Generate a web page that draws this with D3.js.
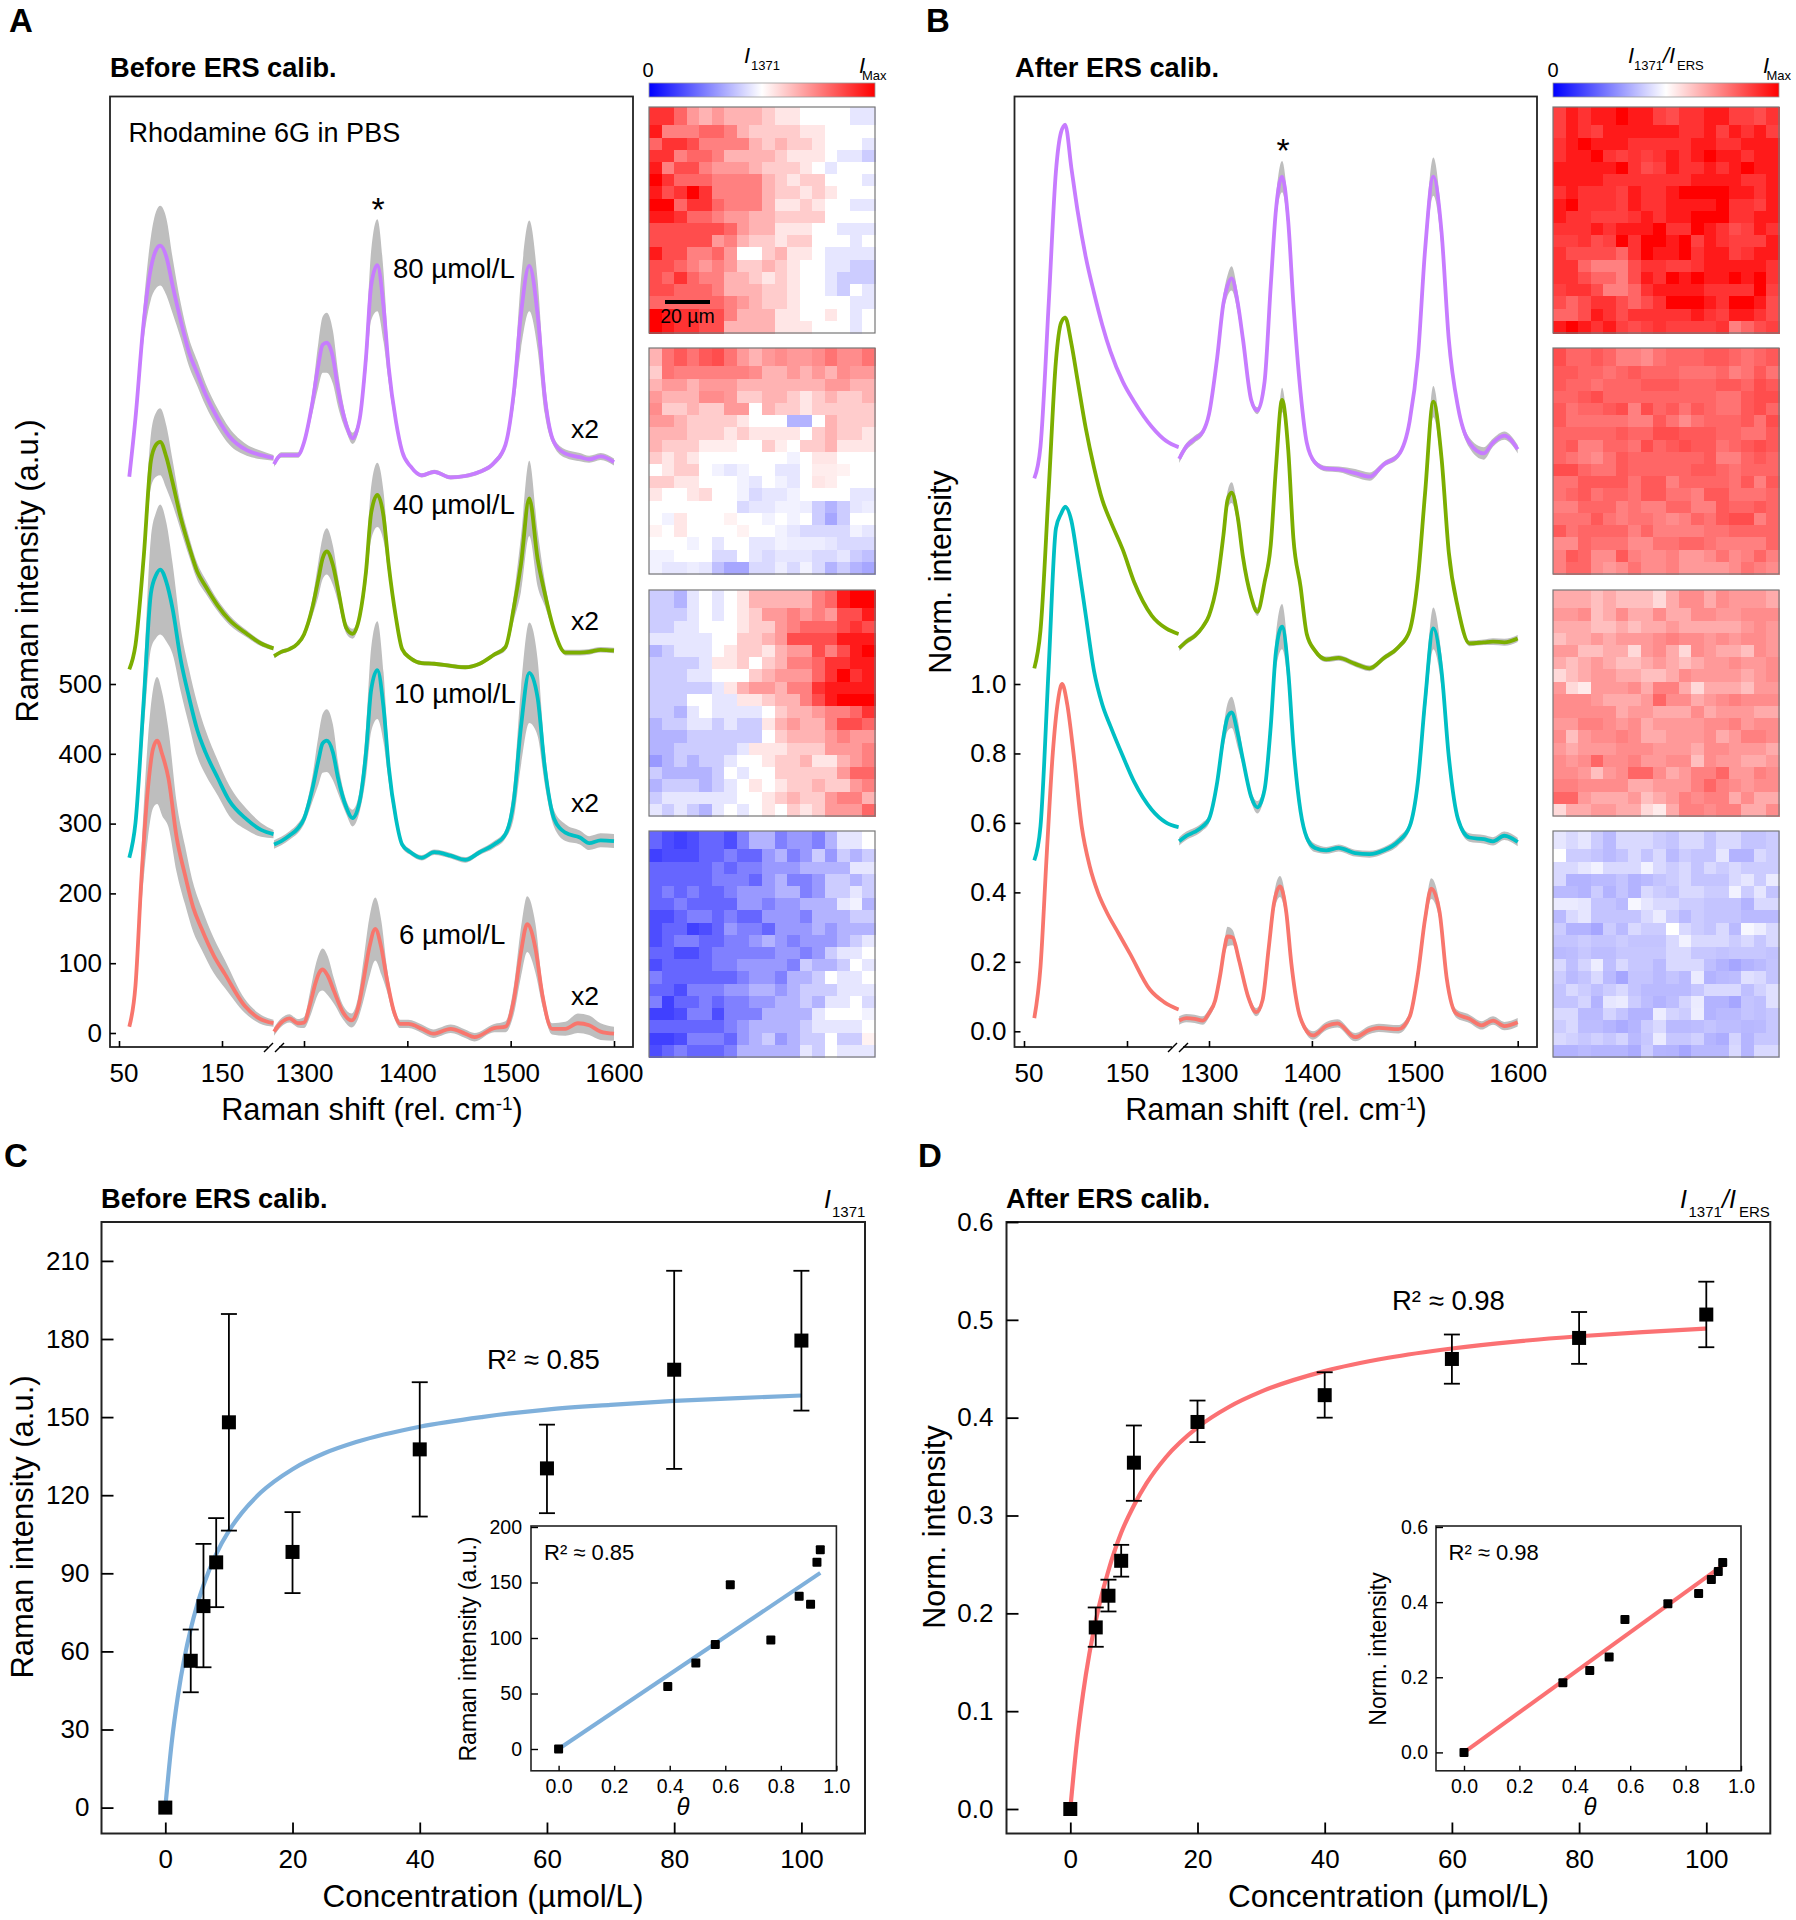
<!DOCTYPE html>
<html>
<head>
<meta charset="utf-8">
<style>
  body { margin: 0; background: #fff; }
  svg { display: block; }
  text { font-family: "Liberation Sans", Arial, sans-serif; fill: #000; }
  .axis text { font-family: "Liberation Sans", Arial, sans-serif; }
  .axis line { stroke: #000; }
  .map { filter: blur(0.7px); }
</style>
</head>
<body>
<svg id="fig" width="1796" height="1920"></svg>
<script src="https://cdnjs.cloudflare.com/ajax/libs/d3/7.8.5/d3.min.js"></script>
<script>
// ---- spectra: x grids (rel. cm-1) ----
const leftX = [60,66,74,81,86,90,96,102,110,118,126,134,146,157,174,188,200];
const rightX = [1271,1278,1286,1294,1300,1308,1314,1318,1322,1328,1333,1341,1347,1354,1360,1365,1371,1377,1382,1389,1395,1403,1414,1426,1442,1456,1470,1484,1495,1503,1510,1518,1526,1533,1542,1553,1567,1576,1587,1600];
const redLeftX = [60,66,72,78,83,87,92,98,106,114,122,130,142,153,172,186,200];
const redRightX = [1271,1278,1286,1294,1300,1306,1311,1315,1318,1323,1329,1338,1346,1352,1358,1363,1369,1375,1380,1387,1393,1401,1414,1425,1442,1456,1465,1484,1495,1503,1510,1516,1524,1531,1540,1553,1565,1576,1587,1600];

const seriesColors = ["#C77CFF", "#7CAE00", "#00BFC4", "#F8766D"];
const seriesLabels = ["80 µmol/L", "40 µmol/L", "10 µmol/L", "6 µmol/L"];

// panel A, Raman intensity
const a80Left = [797,881,1019,1096,1122,1128,1112,1071,1020,975,945,915,880,855,835,828,824];
const a40Left = [521,556,682,820,843,847,825,789,738,697,661,640,612,592,572,558,551];
const a10Left = [251,301,476,630,656,664,646,608,534,481,434,402,365,333,306,291,285];
const a6Left = [9,68,227,349,407,419,399,365,280,227,180,150,111,84,39,21,14];
const a80Right = [815,828,828,828,846,902,958,986,989,968,922,871,852,881,968,1071,1100,1040,953,876,833,812,799,804,796,798,804,817,843,917,1030,1099,1030,912,846,830,825,822,826,818];
const a40Right = [540,546,550,558,571,609,651,680,690,670,635,580,572,598,661,745,771,740,670,595,550,537,530,529,526,524,529,542,553,609,672,766,680,630,577,545,545,546,549,548];
const a10Right = [270,275,283,293,307,349,391,415,419,402,365,323,308,333,402,492,520,466,381,307,270,259,251,259,254,248,259,270,285,333,439,516,481,381,307,287,280,272,276,275];
const a6Right = [2,15,21,14,15,42,71,87,91,82,60,29,18,34,79,121,149,121,79,31,13,13,6,-1,6,-1,-6,7,9,47,116,156,121,52,6,6,14,11,2,-1];
const a80SdLeft = [0,2,25,45,55,57,55,40,25,20,18,16,14,12,8,6,4];
const a40SdLeft = [0,2,20,38,46,48,45,32,18,14,12,10,8,7,5,4,3];
const a10SdLeft = [0,3,40,80,90,93,85,65,45,40,38,32,25,22,15,10,6];
const a6SdLeft = [1,3,40,70,85,91,88,70,50,42,35,30,25,20,10,7,5];
const a80SdRight = [4,4,4,4,6,15,32,40,43,38,25,10,8,10,25,50,66,50,22,8,4,3,3,3,3,3,3,4,6,20,50,65,50,25,6,6,6,5,5,5];
const a40SdRight = [3,3,3,3,5,12,25,30,33,28,18,8,7,8,20,38,46,35,15,5,3,3,3,3,3,3,3,3,5,18,40,54,40,18,5,4,4,4,4,4];
const a10SdRight = [6,6,6,7,8,18,35,42,45,40,22,10,12,15,35,60,70,50,22,8,5,4,4,4,4,4,4,5,6,25,55,72,55,25,12,12,10,10,10,10];
const a6SdRight = [6,6,6,6,8,18,25,28,30,28,18,10,10,15,30,42,45,38,18,8,6,6,6,6,6,6,6,6,8,20,35,40,35,15,8,10,14,14,12,10];

// panel B, normalised intensity
const b80Left = [1.592,1.684,2.096,2.476,2.589,2.610,2.486,2.363,2.229,2.126,2.034,1.957,1.870,1.813,1.741,1.700,1.682];
const b40Left = [1.045,1.154,1.561,1.93,2.04,2.055,1.98,1.875,1.736,1.623,1.53,1.469,1.386,1.293,1.197,1.16,1.144];
const b10Left = [.492,.59,1.05,1.448,1.49,1.51,1.47,1.36,1.197,1.037,.941,.878,.792,.718,.638,.601,.588];
const b6Left = [.038,.185,.505,.803,.952,1.0,.941,.803,.59,.473,.398,.345,.281,.223,.121,.084,.063];
const b80Right = [1.648,1.684,1.705,1.726,1.777,1.941,2.096,2.147,2.168,2.096,1.993,1.818,1.787,1.870,2.147,2.363,2.461,2.332,2.096,1.839,1.695,1.638,1.620,1.618,1.607,1.597,1.633,1.659,1.757,1.941,2.250,2.461,2.301,1.993,1.797,1.695,1.664,1.695,1.715,1.676];
const b40Right = [1.103,1.122,1.138,1.165,1.197,1.293,1.428,1.53,1.551,1.479,1.366,1.25,1.208,1.293,1.40,1.62,1.818,1.674,1.42,1.28,1.144,1.096,1.071,1.075,1.058,1.045,1.075,1.106,1.154,1.303,1.55,1.813,1.65,1.38,1.218,1.117,1.12,1.122,1.12,1.131];
const b10Right = [.547,.563,.574,.590,.611,.718,.846,.904,.918,.856,.782,.675,.645,.696,.878,1.091,1.165,1.037,.824,.633,.558,.528,.521,.528,.513,.510,.521,.547,.590,.718,.952,1.160,1.037,.792,.611,.558,.553,.547,.563,.545];
const b6Right = [.031,.038,.036,.031,.052,.089,.164,.239,.273,.27,.207,.10,.055,.089,.239,.366,.417,.345,.196,.058,.01,-.012,.015,.023,-.017,.004,.01,.006,.042,.164,.324,.411,.345,.153,.052,.036,.017,.031,.015,.026];
const bSdLeft = [0,.002,.004,.005,.005,.006,.006,.005,.004,.004,.004,.004,.004,.004,.004,.004,.004];
const b80SdRight = [.012,.01,.01,.01,.01,.015,.025,.03,.035,.03,.02,.01,.01,.01,.02,.035,.045,.035,.02,.01,.008,.008,.008,.008,.012,.012,.008,.008,.01,.02,.04,.055,.04,.02,.015,.015,.018,.012,.012,.012];
const b40SdRight = [.008,.008,.008,.008,.01,.012,.02,.025,.03,.025,.015,.012,.012,.01,.015,.025,.035,.025,.015,.008,.008,.008,.008,.008,.008,.008,.008,.008,.01,.015,.03,.045,.03,.015,.01,.008,.008,.01,.01,.01];
const b10SdRight = [.012,.012,.012,.012,.012,.015,.03,.04,.045,.04,.02,.015,.018,.015,.025,.05,.065,.045,.02,.012,.012,.012,.01,.01,.01,.01,.01,.012,.012,.02,.045,.06,.045,.02,.012,.012,.012,.012,.012,.012];
const b6SdRight = [.012,.012,.012,.012,.012,.012,.018,.022,.028,.022,.014,.012,.012,.012,.02,.025,.03,.025,.014,.012,.01,.012,.012,.012,.012,.012,.012,.012,.012,.016,.025,.03,.025,.014,.012,.012,.012,.012,.012,.012];

// ---- maps: 18 x 18, -10 = full blue, 0 = white, 10 = full red ----
const mapA80 = [
[8,8,6,4,3,4,3,3,3,2,1,1,0,0,0,0,-1,-1],[9,5,5,5,6,6,5,3,2,2,2,2,1,1,0,0,0,0],[6,8,8,7,5,5,5,5,3,2,3,2,2,1,0,0,0,-1],
[8,8,5,6,6,5,3,3,3,3,2,1,1,1,0,-1,-1,-2],[9,5,7,7,5,4,4,4,3,2,2,2,1,0,-1,0,0,0],[10,8,6,6,6,5,5,5,5,3,2,1,2,2,0,0,0,-1],
[9,7,8,10,8,5,5,5,5,3,2,2,1,2,1,0,0,0],[10,10,6,8,8,6,5,5,5,3,1,1,2,1,0,0,-1,-1],[9,9,8,6,6,5,4,4,3,3,2,2,2,2,0,0,0,0],
[7,7,7,7,7,7,6,4,3,3,1,1,1,0,0,-1,-1,-1],[7,7,7,7,7,4,5,3,2,2,1,2,2,0,0,0,-1,0],[9,7,7,5,5,6,4,0,0,2,3,1,1,0,-1,-1,-1,-1],
[7,7,6,5,4,5,4,2,2,3,2,1,0,0,-1,-1,-2,-2],[7,6,8,6,5,5,3,3,2,1,2,1,0,0,-1,-2,-2,-2],[7,7,6,6,6,5,3,3,3,2,2,1,0,0,-1,-2,0,-1],
[6,6,6,6,6,6,5,4,3,2,2,1,0,0,0,0,-1,-1],[10,9,8,8,7,7,5,3,3,3,1,1,0,0,1,0,-1,0],[10,9,8,8,7,7,3,3,3,3,1,1,1,0,0,0,-1,0]];
const mapA40 = [
[3,5.5,6.5,5.5,6.5,7,5.5,4,3,4,4.5,4,4,4.5,5.5,4.5,4.5,5.5],[2,5.5,5,5,5,5,5,5,4.5,3,3,4,3,4,3,4.5,4,4],[3,4,4,3,4,4,4,3,3,3,3,3,3,3,4,4,3,3],
[4,3,3,3,4.5,4.5,4,2,2,3,3,2,1,2,3,2,2,3],[4.5,2,2,3,2,2,4,4,0,3,2,2,1,2,2,2,2,2],[4,4,3,2,2,2,2,1,0,0,0,-3,-3,0,3,2,2,2],
[3,3,3,2,2,2,1,2,1,1,1,1,0,2,3,2,2,1],[3,2,2,2,.7,.7,.7,0,0,2,.7,0,2,2,3,1,1,1],[2,1,2,1,0,0,0,0,0,0,0,-.5,0,1,1,0,0,0],
[0,1,2,2,0,-.5,-1,-.5,0,0,-1,-1,0,.7,.7,.5,0,0],[2,2,1,1,0,0,0,-.5,-1,0,-.5,-1,0,1,.7,0,0,0],[1,0,0,1,1.5,0,0,-.5,-1.5,-1,-1,-.5,0,0,0,0,-1,-1],
[0,0,0,0,0,0,0,-1.5,-1,-1,-.5,-.5,-.7,-2,-3,-2,-1,-.7],[0,-.5,1,0,0,0,.5,0,0,-.5,0,-.5,0,-2,-3.5,-2,0,0],[.5,0,1,0,0,0,0,.5,0,0,-.5,-1,-1.5,-1.5,-1.5,-1.5,-.5,-1],
[0,0,0,-.5,0,-1,0,0,-1,-1,-.5,-.7,-.7,-.7,-1,-1.5,-1.5,-1.5],[-.5,-.5,0,0,0,-1.5,-1.5,0,-1,-1.5,-1,-1,-1,-1.5,-1.5,-1,-2,-2.5],[-.5,-1,-1,-.7,-1,-2.5,-3.5,-3.5,-1.5,-1.5,-.7,-1.5,-.5,-1.5,-3,-2,-3,-3.5]];
const mapA10 = [
[-2,-2,-3,-1,0,-1,0,1,3,3,3,3,3,5,6,9,10,10],[-2,-2,-2,-1,0,-1,0,1,2,4,4,5,4,5,4,7,7,9],[-2,-2,-1,-1,0,0,0,1,2,2,4,5,6,6,6,7,8,7],
[-1,-1,-1,-1,-1,0,0,2,2,3,4,7,7,7,7,9,9,9],[-3,-2,-1,-1,-1,0,1,2,2,1,3,4,4,7,5,7,9,10],[-2,-2,-2,-2,-1,1,1,2,0,2,3,5,5,6,8,8,9,9],
[-2,-2,-2,-1,-1,0,0,0,2,3,4,4,4,6,8,10,8,9],[-2,-2,-2,-2,-2,-1,1,3,4,4,3,5,5,8,9,9,9,9],[-2,-2,-2,0,0,-1,-1,1,1,2,3,3,5,7,9,10,10,10],
[-2,-2,-3,-1,0,-1,-1,-1,-1,0,2,3,3,4,5,5,6,8],[-3,-2,-2,-1,-1,-2,-1,-2,-2,1,3,4,3,3,5,7,7,6],[-3,-3,-3,-2,-2,-2,-2,-2,-2,0,2,3,3,3,4,5,4,4],
[-3,-3,-2,-2,-2,-2,-2,-1,1,1,1,2,2,2,4,4,4,5],[-4,-3,-2,-3,-2,-2,-1,0,0,1,2,2,3,1,1,3,4,5],[-2,-3,-3,-3,-3,-2,0,-1,0,0,2,2,2,2,2,4,6,6],
[-3,-2,-2,-2,-3,-2,-1,0,1,0,1,2,2,3,2,2,4,5],[-2,-1,-1,-1,-1,-1,-1,0,0,1,2,3,2,2,4,5,5,3],[-1,-2,-1,-2,-3,-1,0,-1,0,1,0,2,1,2,4,4,4,6]];
const mapA6 = [
[-6,-7,-7.5,-7,-6,-6,-7,-5,-3,-3,-5,-4,-4,-5,-3,-1,-1,0],[-7.5,-7,-7,-7,-6,-6,-5,-6,-6,-4,-3,-5,-4,-2,-4,-2,-3,-2],[-6,-6,-6,-6,-6,-5,-6,-5,-5,-4,-4,-4,-3,-3,-3,-3,-1,-1],
[-6,-6,-6,-6,-6,-5,-5,-5,-6,-4,-3,-5,-5,-4,-2,-2,-3,-2],[-6,-5,-6,-5,-6,-6,-5,-4,-4,-4,-3,-3,-5,-4,-2,-2,-1,-2],[-6,-6,-5,-6,-6,-6,-6,-4,-4,-5,-4,-4,-3,-3,-3,-1,-.5,-3],
[-7,-7,-6,-5,-5,-6,-5,-6,-6,-4,-4,-4,-5,-3,-3,-3,-2,-2],[-7,-6,-6,-7.5,-7,-6,-4,-5,-5,-6,-4,-4,-4,-3,-4,-3,-3,-3],[-7,-6,-5,-5,-6,-6,-5,-5,-4,-3,-4,-5,-4,-4,-4,-3,-2,-1],
[-6,-6,-7,-7,-6,-5,-5,-5,-5,-5,-4,-4,-5,-4,-2,-1,-1,0],[-7,-6,-6,-6,-6,-5,-5,-4,-4,-4,-4,-5,-2,-3,-3,-2,0,-1],[-5,-6,-6,-6,-6,-6,-6,-5,-4,-4,-5,-3,-3,-2,0,-1,-1,0],
[-6,-6,-7,-5,-5,-5,-4,-4,-3,-3,-4,-3,-2,-2,-2,-1,-1,-1],[-5,-7.5,-6,-6,-5,-6,-5,-5,-4,-4,-3,-3,-2,-3,-1,-1,0,-1.5],[-7.5,-7.5,-7,-5,-5,-7,-5,-5,-5,-3,-3,-3,-3,-1,0,0,0,-.5],
[-6,-6,-6,-6,-6,-6,-5,-4,-3,-3,-3,-3,-2,-1,-1,-1,-1,0],[-7.5,-7.5,-7,-5,-5,-5,-6,-4,-3,-2,-4,-3,-2,-2,0,-2,-2,.5],[-7,-6,-5,-6,-6,-6,-5,-3,-3,-3,-3,-3,-1,-2,0,-1,-1,-1]];
const mapB80 = [
[7.5,9,8,9,9,10,9,9,7.5,7,8,8,9,9,7.5,7.5,7,8],[7.5,9,8,7.5,9,9,9,9,9,9,8,8,9,7.5,9,8,9,7.5],[8,9,10,9,9,9,8,8,8,8,8,9,9,8,8,9,9,9],
[8,9,9,10,8,7.5,8,7.5,8,9,8,9,10,9,9,8,9,9],[9,9,9,9,9,10,8,7,7.5,9,8,8,9,8,9,10,9,9],[9,9,9,9,8,8,8,8,8,8,8,9,9,9,9,8,8,9],
[8,9,8,8,8,7.5,9,8,8,9,10,10,10,10,9,9,8,9],[9,10,8,8,8,7.5,9,8,8,9,9,9,9,10,8,8,7.5,9],[9,8,8,7.5,7.5,7.5,8,9,8,9,9,10,10,10,8,8,9,9],
[8,8,8,9,8,9,9,9,10,8,8,10,9,8,7,7.5,9,8],[7.5,7.5,8,7,7.5,10,8,10,10,9,10,7.5,9,8,7.5,7.5,7.5,9],[8,7,7,7,7,6,8,10,9,9,10,8,9,9,7.5,8,9,9],
[8,8,6,5,5,5,7,8,8,7.5,7.5,8,9,9,9,9,9,8],[8,8,7,6,6,5,7,9,8,10,9,10,9,9,10,9,10,8],[7.5,8,8,7,5,5,6,8,9,9,9,9,8,8,8,8,10,7.5],
[7,6,7,8,8,7,6,7,8,10,10,10,9,8,10,10,9,7],[6,6,7,9,8,7,8,8,8,8,8,9,8,7.5,9,9,8,7],[9,10,9,8,9,7.5,7,7.5,8,7.5,7.5,7.5,7.5,8,5,6,7,7.5]];
const mapB40 = [
[7,6,6,6.5,6,5,5,4.5,5.5,6,6,6,6.5,6.5,6,5.5,6,6.5],[6.5,6.5,6,6,5.5,6,6.5,6,6,6,5.5,5.5,5.5,6,5,5.5,6.5,5.5],[6.5,6,6,5.5,6,6,6,6.5,6.5,6.5,6,6,6,6.5,6.5,6,7,6.5],
[6,6,6.5,7,6,6,6,6,6,6,6,6,6,5.5,5.5,6.5,7,7],[6.5,5.5,6,6,6.5,7,5,7,6,6.5,5.5,6.5,6,5.5,5.5,6.5,7,6],[6.5,5.5,5.5,5.5,5.5,5.5,5,5,6.5,5.5,4.5,5.5,6,6,6,6.5,5.5,7],
[6,6,6,6,6,6.5,6,6,7,7,6.5,6.5,6.5,6,6,5.5,5.5,6.5],[6,6.5,5,5,6,6,5.5,7,6,6.5,7,6.5,6.5,5.5,6,6.5,7,6.5],[6,5.5,5,4.5,5.5,6.5,6,6,6,6,6,6,6.5,5,5,6,6.5,6],
[7,7,6,5.5,5.5,6.5,6,6,6,6,6,6.5,6.5,6,5.5,6,6,6],[5.5,5.5,6.5,6.5,6.5,6.5,5.5,6.5,6.5,5,6,6,6,6,5.5,6.5,5,6.5],[5.5,6,6.5,5.5,6,6,5.5,6.5,6.5,5.5,5.5,5,6.5,6.5,5.5,5.5,5.5,6],
[5,5,6,6,6,5,5.5,5,5,6,6,5,5,6.5,6,6,6.5,6],[5.5,5.5,5.5,6.5,5.5,5,5.5,5.5,5,4.5,5,6,5.5,6.5,7,7,5,6],[6.5,5.5,6,6,6,6,5,6,5,5,5,5,5.5,5.5,6,6,6,6],
[4.5,4.5,6,5.5,5.5,5.5,4.5,4.5,5.5,5.5,6,6,5.5,5,5,5,5,6],[5,6.5,6,4.5,4.5,6.5,5,4.5,4.5,5,4,4,4.5,5.5,4.5,5,6,5],[5,6,6,4.5,4,4.5,5.5,4.5,4.5,5,4,4,4,4,4.5,5.5,5,4.5]];
const mapB10 = [
[3.3,3.3,3.3,2.5,3.3,2.5,2.5,2.5,1.5,3.3,4.5,4.5,3.3,4.5,4,4,4,3.3],[4,4,4.5,2.5,3.3,4.5,3.3,3.3,4.5,3.3,3.3,4.5,4.5,4,4,4.5,4.5,4.5],[3.3,3.3,3.3,2.5,2.5,3.3,2.5,3.3,3.3,4,3.3,3.3,3.3,3.3,3.3,4,4.5,4],
[2.5,3.3,3.3,4,3.3,4,4,4,4.5,5,4.5,4.5,4,4.5,4,4.5,4.5,4],[4,4,2.5,2.5,3.3,3.3,1.5,4,4.5,3.3,1.5,4.5,4,3.3,3.3,2.5,4.5,4],[3.3,2.5,3.3,4,3.3,2.5,2.5,3.3,4,3.3,2.5,3.3,4,4,4.5,4,4,4.5],
[1.5,2.5,3.3,4,4,3.3,3.3,2.5,2.5,3.3,4.5,4,4,4,4,3.3,4,4.5],[4,1.5,.8,4,4,4,4.5,3.3,5,5,3.3,1.5,3.3,3.3,3.3,2.5,4,4],[4.5,4.5,4.5,4,3.3,3.3,3.3,4,6,4.5,4.5,3.3,4,4.5,5,4.5,4.5,4.5],
[4.5,4.5,4.5,4.5,4.5,3.3,4,4,3.3,3.3,3.3,4.5,3.3,4,4,4,3.3,3.3],[4,4,5,5,4.5,4,4.5,3.3,4,4,4,4,4.5,4.5,5,4,4.5,4.5],[4.5,2.5,4,4.5,4.5,5,4.5,3.3,3.3,4,4,4,4.5,3.3,4,5,5,4.5],
[4,3.3,4,4,4,4.5,4.5,4.5,4,4,4,3.3,4.5,4.5,4,4,4,3.3],[4.5,4,4.5,6,4.5,4.5,5,4,4,4.5,4.5,2.5,4.5,4,4,3.3,3.3,4],[4.5,4.5,4,2.5,4,4.5,6,6,4.5,3.3,4,5,5,6,4,4,5,4.5],
[5,5,4.5,4.5,4.5,4.5,3.3,3.3,4,4,4,5,6,5,4.5,4,4.5,4.5],[6,6,4,3.3,3.3,3.3,4,2.5,3.3,4,5,4.5,5,5,3.3,4.5,3.3,3.3],[1.5,3.3,3.3,4,4,3.3,3.3,1.5,.8,3.3,5,5,4.5,5,5,3.3,3.3,4.5]];
const mapB6 = [
[-1,-1.5,-1,-2,-2.7,-1.5,-1.5,-1.5,-2,-2.3,-1.5,-1.5,-2.3,-1.5,-1.5,-2.3,-2.3,-2],[0,-2,-2,-2.3,-2.7,-2.3,-1.5,-2.3,-1.5,-2.7,-2,-2.3,-2.3,-1,-3,-3,-1.5,-2],[-1.5,-1.5,-1,-.5,-1.5,-1.5,-1.5,-.5,-1.5,-2,-1.5,-2.3,-1.5,-2,-1.5,-2,-2,-2],
[-1.5,-3,-3,-2.7,-2.7,-2.3,-3,-2.7,-2.3,-2,-1.5,-2.3,-2.3,-2.3,-1.5,-1,-2,-.8],[-2.7,-2.7,-3,-2,-3,-2.3,-3,-1.5,-2,-2.3,-1.5,-1.5,-2,-2,-.5,-2,-1,-2.3],[-.8,-.8,-1,-2.3,-2.3,-2.7,-.3,-1,-1.5,-1.5,-2,-2,-2.3,-2.3,-2.3,-3,-1.5,-1.5],
[-2.7,-1.5,-1,-2.3,-2.3,-2.3,-2.3,-1.5,-.8,-2,-2.7,-2,-2.3,-2.3,-2.3,-2.7,-2.7,-2.7],[-2,-3,-3,-3.5,-2,-2.7,-1.5,-2,-2,0,-1.5,-2,-2.3,-1.5,-2.7,-.3,-.7,-1.5],[-2.3,-2.3,-2,-2.3,-2.3,-2,-2.3,-2.3,-2.3,-1.5,-.5,-1.5,-1.5,-1.5,-2,-1.5,-2.2,-1.5],
[-2.7,-2.6,-2.2,-2.6,-2.6,-2.2,-2.2,-2.2,-2.2,-1.5,-1.5,-2.2,-2.2,-2.4,-2.2,-2.2,-2.2,-2.4],[-1.5,-2.5,-1.7,-.7,-2.5,-1.5,-2.2,-2.2,-2.7,-1.5,-1.5,-1.5,-2.5,-3,-3.5,-3,-2.7,-2.3],[-2,-2.7,-2.3,-1.5,-2.7,-3.5,-2.3,-2.3,-2.7,-2.3,-2.7,-.8,-3,-2.7,-2.6,-1.2,-1.5,-2.3],
[-2.3,-1.5,-2,-2.5,-2,-1.5,-2.3,-2.7,-2.7,-2.7,-2.7,-2.2,-1.5,-1.5,-1.5,-2.5,-1.8,-1.2],[-2.3,-2.3,-1.7,-3,-1,-.8,-2,-2.6,-3,-2.6,-1.7,-.8,-3,-3,-3.5,-2.3,-2.5,-1.2],[-1.5,-1.5,-2.7,-2.7,-1.7,-2.3,-3,-3,-.7,-1.7,-2,-.7,-3,-2.7,-2.7,-2.3,-2.5,-2.2],
[-2,-1.5,-2.6,-2.6,-2.9,-3.3,-2.9,-2,-1.5,-2.7,-2.7,-2.6,-2.3,-2.6,-2.6,-2.8,-2.7,-2.2],[-1.5,-1.8,-2.2,-1.8,-2.2,-1.7,-2.7,-2.2,-.8,-2.2,-2.2,-1.8,-2.9,-3.2,-1.7,-2.9,-2.2,-2.2],[-3,-3,-2.7,-2.9,-2.9,-2.9,-3.3,-2,-2.9,-3,-3.5,-2.8,-2.8,-2.8,-1.5,-2.9,-1.5,-1.5]];

// ---- concentration curves ----
const conc = [0,4,6,8,10,20,40,60,80,100];
const cMean = [0,56.4,77.4,94.2,148,98.2,137.6,130.3,168.2,179.4];
const cHigh = [0,68.4,101.3,111.2,189.6,113.5,163.4,147.1,206.2,206.2];
const cLow = [0,44.3,53.9,77,106.4,82.4,111.8,113.1,130.1,152.5];
const dMean = [0,.1856,.218,.2537,.354,.3956,.423,.46,.4815,.5054];
const dHigh = [0,.206,.2344,.27,.392,.4175,.4464,.485,.508,.539];
const dLow = [0,.1658,.2019,.2375,.315,.375,.4,.4347,.455,.472];
const fitConc = [0,1,2,3,4,5,6,8,10,12,15,20,25,30,40,50,60,70,80,90,100];
const cFit = [0,24.8,43.2,57.4,68.6,77.8,85.4,97.4,106.3,113.1,121,130,136.1,140.4,146.3,150.1,152.9,154.7,156.2,157.3,158.3];
const dFit = [0,.0663,.1177,.1588,.1923,.2202,.2438,.2823,.3103,.333,.3593,.39,.4112,.4266,.4476,.4612,.4707,.4778,.4832,.4875,.491];
// insets
const cTheta = [0,.393,.494,.564,.618,.764,.866,.907,.93,.942];
const dTheta = [0,.357,.454,.524,.581,.736,.847,.893,.918,.934];
const cInsetLine = [[0,0],[.942,158.7]];
const dInsetLine = [[0,0],[.934,.498]];

const svg = d3.select("#fig");
const RED_BLUE = d3.scaleLinear().domain([-10, 0, 10]).range(["#0000ff", "#ffffff", "#ff0000"]);

function txt(x, y, s, size, opts = {}) {
  const t = svg.append("text")
    .attr("x", x).attr("y", y)
    .style("font-size", size + "px")
    .text(s);
  if (opts.bold) t.style("font-weight", "bold");
  if (opts.italic) t.style("font-style", "italic");
  if (opts.anchor) t.attr("text-anchor", opts.anchor);
  if (opts.rotate) t.attr("transform", `rotate(-90 ${x} ${y})`);
  return t;
}

function frame(x0, y0, x1, y1, w) {
  svg.append("rect")
    .attr("x", x0).attr("y", y0)
    .attr("width", x1 - x0).attr("height", y1 - y0)
    .attr("fill", "none").attr("stroke", "#222").attr("stroke-width", w);
}

function styleAxis(g, size, w) {
  g.select(".domain").remove();
  g.attr("class", "axis");
  g.selectAll("line").attr("stroke-width", w);
  g.selectAll("text").style("font-size", size + "px");
}

function drawSpectra(p) {
  const xl = d3.scaleLinear().domain([50, 150]).range(p.xlRange);
  const xr = d3.scaleLinear().domain([1300, 1600]).range(p.xrRange);
  const y = d3.scaleLinear().domain(p.yDomain).range(p.yRange);

  const parts = [];
  p.series.forEach((s, i) => {
    const isRed = i === 3;
    parts.push({ i, x: xl, xs: isRed ? redLeftX : leftX, ys: s.left, sd: s.sdLeft });
    parts.push({ i, x: xr, xs: isRed ? redRightX : rightX, ys: s.right, sd: s.sdRight });
  });

  parts.forEach(d => {
    const rows = d.xs.map((v, k) => ({ x: v, y: d.ys[k], sd: d.sd[k] }));
    svg.append("path").datum(rows)
      .attr("fill", "#bebebe")
      .attr("d", d3.area().curve(d3.curveMonotoneX)
        .x(r => d.x(r.x)).y0(r => y(r.y - r.sd)).y1(r => y(r.y + r.sd)));
  });
  parts.forEach(d => {
    const rows = d.xs.map((v, k) => ({ x: v, y: d.ys[k] }));
    svg.append("path").datum(rows)
      .attr("fill", "none")
      .attr("stroke", seriesColors[d.i])
      .attr("stroke-width", 3.8)
      .attr("d", d3.line().curve(d3.curveMonotoneX).x(r => d.x(r.x)).y(r => y(r.y)));
  });

  frame(p.box[0], p.box[1], p.box[2], p.box[3], 1.8);

  const gl = svg.append("g").attr("transform", `translate(0,${p.box[3]})`)
    .call(d3.axisBottom(xl).tickValues([50, 150]).tickFormat(d3.format("d")).tickSize(-6).tickPadding(17));
  styleAxis(gl, 26, 1.6);
  const gr = svg.append("g").attr("transform", `translate(0,${p.box[3]})`)
    .call(d3.axisBottom(xr).tickValues([1300, 1400, 1500, 1600]).tickFormat(d3.format("d")).tickSize(-6).tickPadding(17));
  styleAxis(gr, 26, 1.6);
  gl.selectAll("text").filter(d => d === 50).attr("dx", 4.5);

  const gy = svg.append("g").attr("transform", `translate(${p.box[0]},0)`)
    .call(d3.axisLeft(y).tickValues(p.yTicks).tickFormat(p.yFormat).tickSize(-6).tickPadding(8));
  styleAxis(gy, 26, 1.6);

  // axis break
  svg.append("rect").attr("x", p.breakX - 6).attr("y", p.box[3] - 2).attr("width", 11).attr("height", 4).attr("fill", "#fff");
  [-10, 1].forEach(dx => {
    svg.append("line")
      .attr("x1", p.breakX + dx).attr("y1", p.box[3] + 5)
      .attr("x2", p.breakX + dx + 9).attr("y2", p.box[3] - 4)
      .attr("stroke", "#000").attr("stroke-width", 1.5);
  });
}

function drawMap(x0, y0, size, grid) {
  const cols = d3.scaleLinear().domain([0, 18]).range([x0, x0 + size]);
  const rows = d3.scaleLinear().domain([0, 18.5]).range([y0, y0 + size]);
  const g = svg.append("g").attr("class", "map").attr("shape-rendering", "crispEdges");
  grid.forEach((row, r) => {
    g.selectAll(null).data(row).join("rect")
      .attr("x", (d, c) => cols(c))
      .attr("y", r === 0 ? rows(0) : rows(r + .5))
      .attr("width", cols(1) - cols(0) + .5)
      .attr("height", rows(r === 0 ? 1.5 : 1) - rows(0) + .5)
      .attr("fill", d => RED_BLUE(d));
  });
  svg.append("rect").attr("x", x0).attr("y", y0).attr("width", size).attr("height", size)
    .attr("fill", "none").attr("stroke", "#777").attr("stroke-width", 1.2);
}

function drawColorbar(x0, y0, w, h, id) {
  const grad = svg.append("defs").append("linearGradient").attr("id", id);
  [[0, -10], [50, 0], [100, 10]].forEach(s => {
    grad.append("stop").attr("offset", s[0] + "%").attr("stop-color", RED_BLUE(s[1]));
  });
  svg.append("rect").attr("x", x0).attr("y", y0).attr("width", w).attr("height", h)
    .attr("fill", `url(#${id})`).attr("stroke", "#999").attr("stroke-width", .8);
}

function drawConc(p) {
  const x = d3.scaleLinear().domain([0, 100]).range(p.xRange);
  const y = d3.scaleLinear().domain(p.yDomain).range(p.yRange);
  svg.append("path").datum(fitConc.map((c, i) => [c, p.fit[i]]))
    .attr("fill", "none").attr("stroke", p.color).attr("stroke-width", 4.2)
    .attr("d", d3.line().curve(d3.curveMonotoneX).x(d => x(d[0])).y(d => y(d[1])));
  const g = svg.append("g").attr("stroke", "#000").attr("stroke-width", 1.8);
  conc.forEach((c, i) => {
    if (c === 0) return;
    g.append("line").attr("x1", x(c)).attr("x2", x(c)).attr("y1", y(p.high[i])).attr("y2", y(p.low[i]));
    [p.high[i], p.low[i]].forEach(v => {
      g.append("line").attr("x1", x(c) - 8).attr("x2", x(c) + 8).attr("y1", y(v)).attr("y2", y(v));
    });
  });
  svg.selectAll(null).data(conc).join("rect")
    .attr("x", c => x(c) - 7)
    .attr("y", (c, i) => y(p.mean[i]) - 7)
    .attr("width", 14).attr("height", 14).attr("fill", "#000");

  frame(p.box[0], p.box[1], p.box[2], p.box[3], 2);
  const gx = svg.append("g").attr("transform", `translate(0,${p.box[3]})`)
    .call(d3.axisBottom(x).tickValues(d3.range(0, 101, 20)).tickSize(-11).tickPadding(16));
  styleAxis(gx, 26, 1.8);
  const gy = svg.append("g").attr("transform", `translate(${p.box[0]},0)`)
    .call(d3.axisLeft(y).tickValues(p.yTicks).tickFormat(p.yFormat).tickSize(-12).tickPadding(p.yPad));
  styleAxis(gy, 26, 1.8);
}

function drawInset(p) {
  const x = d3.scaleLinear().domain([0, 1]).range(p.xRange);
  const y = d3.scaleLinear().domain(p.yDomain).range(p.yRange);
  svg.append("path").datum(p.line)
    .attr("fill", "none").attr("stroke", p.color).attr("stroke-width", 4)
    .attr("d", d3.line().x(d => x(d[0])).y(d => y(d[1])));
  svg.selectAll(null).data(p.theta).join("rect")
    .attr("x", d => x(d) - 4.5)
    .attr("y", (d, i) => y(p.mean[i]) - 4.5)
    .attr("width", 9).attr("height", 9).attr("rx", 1).attr("fill", "#000");
  frame(p.box[0], p.box[1], p.box[2], p.box[3], 1.6);
  const gx = svg.append("g").attr("transform", `translate(0,${p.box[3]})`)
    .call(d3.axisBottom(x).tickValues([0, .2, .4, .6, .8, 1]).tickFormat(d3.format(".1f")).tickSize(-5).tickPadding(8));
  styleAxis(gx, 19.5, 1.4);
  const gy = svg.append("g").attr("transform", `translate(${p.box[0]},0)`)
    .call(d3.axisLeft(y).tickValues(p.yTicks).tickFormat(p.yFormat).tickSize(-7).tickPadding(p.yPad));
  styleAxis(gy, 19.5, 1.4);
}

// panel letters and titles
txt(9, 32, "A", 33, { bold: true });
txt(926, 32, "B", 33, { bold: true });
txt(4, 1167, "C", 33, { bold: true });
txt(918, 1167, "D", 33, { bold: true });
txt(110, 77, "Before ERS calib.", 27.2, { bold: true });
txt(1015, 77, "After ERS calib.", 27.2, { bold: true });
txt(101, 1208, "Before ERS calib.", 27.2, { bold: true });
txt(1006, 1208, "After ERS calib.", 27.2, { bold: true });

// panel A
drawSpectra({
  box: [110, 96.5, 633, 1047],
  xlRange: [119, 222], xrRange: [304, 614], breakX: 274,
  yDomain: [0, 500], yRange: [1033, 684],
  yTicks: [0, 100, 200, 300, 400, 500], yFormat: d3.format("d"),
  series: [
    { left: a80Left, right: a80Right, sdLeft: a80SdLeft, sdRight: a80SdRight },
    { left: a40Left, right: a40Right, sdLeft: a40SdLeft, sdRight: a40SdRight },
    { left: a10Left, right: a10Right, sdLeft: a10SdLeft, sdRight: a10SdRight },
    { left: a6Left, right: a6Right, sdLeft: a6SdLeft, sdRight: a6SdRight }
  ]
});
txt(128.5, 142, "Rhodamine 6G in PBS", 27);
txt(393, 278, seriesLabels[0], 27.6);
txt(393, 514, seriesLabels[1], 27.6);
txt(394, 703, seriesLabels[2], 27.6);
txt(399, 944, seriesLabels[3], 27.6);
[437.5, 630, 811.5, 1005].forEach(y => txt(571, y, "x2", 26.5));
txt(378, 221, "*", 34, { anchor: "middle" });
txt(38, 571, "Raman intensity (a.u.)", 31, { anchor: "middle", rotate: true });

// panel B
drawSpectra({
  box: [1014.5, 96.5, 1537, 1047],
  xlRange: [1024, 1127], xrRange: [1209, 1517.7], breakX: 1178,
  yDomain: [0, 1], yRange: [1031.3, 684],
  yTicks: [0, .2, .4, .6, .8, 1], yFormat: d3.format(".1f"),
  series: [
    { left: b80Left, right: b80Right, sdLeft: bSdLeft, sdRight: b80SdRight },
    { left: b40Left, right: b40Right, sdLeft: bSdLeft, sdRight: b40SdRight },
    { left: b10Left, right: b10Right, sdLeft: bSdLeft, sdRight: b10SdRight },
    { left: b6Left, right: b6Right, sdLeft: bSdLeft, sdRight: b6SdRight }
  ]
});
txt(1283, 162, "*", 34, { anchor: "middle" });
txt(951, 572, "Norm. intensity", 30.5, { anchor: "middle", rotate: true });

// x titles for A and B
[372, 1276].forEach(cx => {
  const t = txt(cx, 1120, "Raman shift (rel. cm", 30.7, { anchor: "middle" });
  t.append("tspan").attr("dy", -10).style("font-size", "19px").text("-1");
  t.append("tspan").attr("dy", 10).text(")");
});

// heat maps
const mapTops = [107, 348, 590, 831];
[mapA80, mapA40, mapA10, mapA6].forEach((m, i) => drawMap(649, mapTops[i], 226, m));
[mapB80, mapB40, mapB10, mapB6].forEach((m, i) => drawMap(1553, mapTops[i], 226, m));
svg.append("rect").attr("x", 665).attr("y", 300).attr("width", 45).attr("height", 4).attr("fill", "#000");
txt(687.5, 323, "20 µm", 19.5, { anchor: "middle" });

// colour bars
drawColorbar(649, 83, 226, 14, "barA");
drawColorbar(1553, 83, 226, 14, "barB");
txt(648, 77, "0", 20, { anchor: "middle" });
txt(1553, 77, "0", 20, { anchor: "middle" });
txt(744, 62.5, "I", 22, { italic: true });
txt(751, 70, "1371", 13);
txt(859, 73, "I", 22, { italic: true });
txt(862, 80, "Max", 13);
txt(1628, 62.5, "I", 22, { italic: true });
txt(1634, 70, "1371", 13);
txt(1663, 62.5, "/I", 22, { italic: true });
txt(1677, 70, "ERS", 13);
txt(1763, 73, "I", 22, { italic: true });
txt(1766.5, 80, "Max", 13);

// panel C
drawConc({
  box: [101.5, 1222, 865, 1833.5],
  xRange: [165.3, 801.4], yDomain: [0, 210], yRange: [1807.6, 1260.9],
  yTicks: d3.range(0, 211, 30), yFormat: d3.format("d"), yPad: 12,
  mean: cMean, high: cHigh, low: cLow, fit: cFit, color: "#7fb0db"
});
txt(487, 1369, "R² ≈ 0.85", 27.5);
txt(33, 1527, "Raman intensity (a.u.)", 31, { anchor: "middle", rotate: true });
txt(483, 1907, "Concentration (µmol/L)", 31.5, { anchor: "middle" });
txt(824, 1208, "I", 25, { italic: true });
txt(832, 1217, "1371", 15);

drawInset({
  box: [531, 1526, 836.4, 1770.8],
  xRange: [558.6, 836.4], yDomain: [0, 200], yRange: [1749, 1527],
  yTicks: [0, 50, 100, 150, 200], yFormat: d3.format("d"), yPad: 9,
  theta: cTheta, mean: cMean, line: cInsetLine, color: "#7fb0db"
});
txt(544, 1560, "R² ≈ 0.85", 22);
txt(683, 1815, "θ", 24, { italic: true, anchor: "middle" });
txt(476, 1649, "Raman intensity (a.u.)", 23, { anchor: "middle", rotate: true });

// panel D
drawConc({
  box: [1006.5, 1222, 1770.3, 1833.5],
  xRange: [1070.3, 1706.3], yDomain: [0, .6], yRange: [1809, 1222],
  yTicks: [0, .1, .2, .3, .4, .5, .6], yFormat: d3.format(".1f"), yPad: 13,
  mean: dMean, high: dHigh, low: dLow, fit: dFit, color: "#fb7173"
});
txt(1392, 1310, "R² ≈ 0.98", 27.5);
txt(944.5, 1527, "Norm. intensity", 30.5, { anchor: "middle", rotate: true });
txt(1388.5, 1907, "Concentration (µmol/L)", 31.5, { anchor: "middle" });
txt(1680, 1208, "I", 25, { italic: true });
txt(1688.5, 1217, "1371", 15);
txt(1722, 1208, "/I", 25, { italic: true });
txt(1739, 1217, "ERS", 15);

drawInset({
  box: [1436, 1526, 1741, 1770.8],
  xRange: [1464, 1741], yDomain: [0, .6], yRange: [1752.4, 1527],
  yTicks: [0, .2, .4, .6], yFormat: d3.format(".1f"), yPad: 8,
  theta: dTheta, mean: dMean, line: dInsetLine, color: "#fb7173"
});
txt(1448.5, 1560, "R² ≈ 0.98", 22);
txt(1590, 1815, "θ", 24, { italic: true, anchor: "middle" });
txt(1385.5, 1649, "Norm. intensity", 23, { anchor: "middle", rotate: true });
</script>
</body>
</html>
